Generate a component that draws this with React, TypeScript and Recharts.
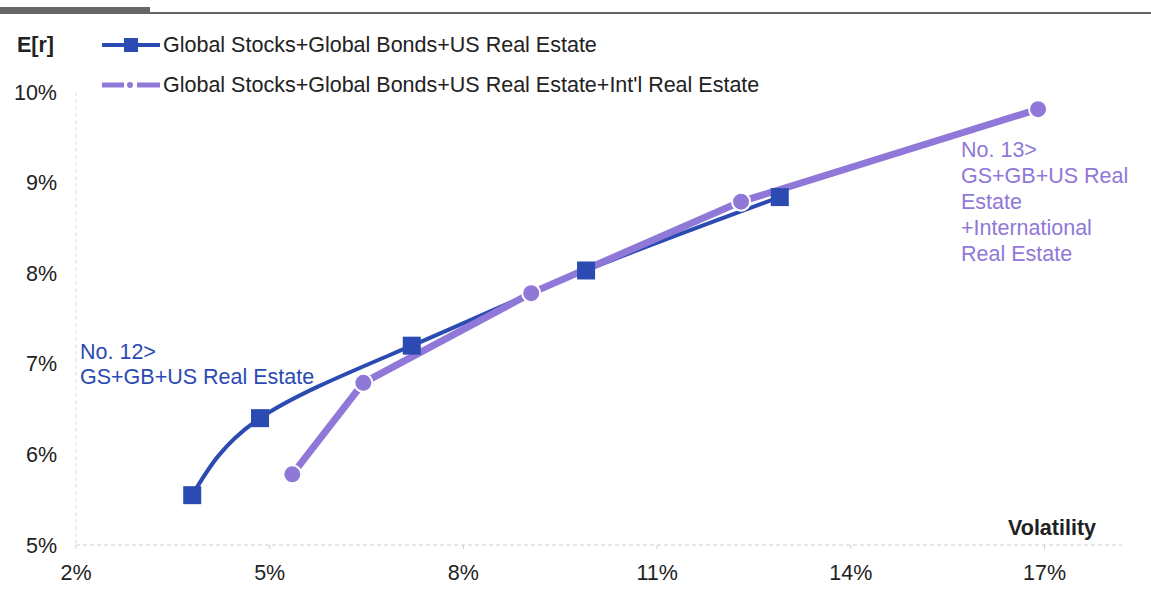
import React from "react";
import { LineChart, Line, XAxis, YAxis } from "recharts";

const xTicks = [2, 5, 8, 11, 14, 17];
const yTicks = [5, 6, 7, 8, 9, 10];

const usVol = [3.8, 4.85, 7.2, 9.9, 12.9];
const usRet = [5.55, 6.4, 7.2, 8.03, 8.84];

const intlVol = [5.35, 6.45, 9.05, 12.3, 16.9];
const intlRet = [5.78, 6.79, 7.78, 8.79, 9.81];

const seriesNames = [
  "Global Stocks+Global Bonds+US Real Estate",
  "Global Stocks+Global Bonds+US Real Estate+Int'l Real Estate",
];

const noteUs = ["No. 12>", "GS+GB+US Real Estate"];
const noteIntl = ["No. 13>", "GS+GB+US Real", "Estate", "+International", "Real Estate"];

const BLUE = "#2b4bb3";
const PURPLE = "#9078d8";
const FONT = "Arial, 'Liberation Sans', sans-serif";
const FS = 21.5;

const usData = usVol.map((v, i) => ({ vol: v, ret: usRet[i] }));
const intlData = intlVol.map((v, i) => ({ vol: v, ret: intlRet[i] }));

const SquareDot = (props: any) => {
  const { cx, cy } = props;
  if (cx == null || cy == null) return null;
  return <rect x={cx - 9} y={cy - 9} width={18} height={18} fill={BLUE} />;
};

const CircleDot = (props: any) => {
  const { cx, cy } = props;
  if (cx == null || cy == null) return null;
  return <circle cx={cx} cy={cy} r={9} fill={PURPLE} stroke="#fff" strokeWidth={2} />;
};

const abs = (left: number, top: number, extra: React.CSSProperties = {}): React.CSSProperties => ({
  position: "absolute",
  left,
  top,
  fontFamily: FONT,
  fontSize: FS,
  color: "#222",
  whiteSpace: "nowrap",
  lineHeight: "24px",
  ...extra,
});

export default function App() {
  return (
    <div style={{ position: "absolute", left: 0, top: 0, width: 1151, height: 595, background: "#fff", overflow: "hidden" }}>
      {/* header rule */}
      <div style={{ position: "absolute", left: 0, top: 12, width: 1151, height: 1.5, background: "#666" }} />
      <div style={{ position: "absolute", left: 0, top: 7, width: 150, height: 6, background: "#666" }} />

      <LineChart
        width={1151}
        height={595}
        margin={{ top: 92, right: 29, bottom: 10, left: 0 }}
        style={{ position: "absolute", left: 0, top: 0 }}
      >
        <XAxis
          type="number"
          dataKey="vol"
          domain={[2, 18.2]}
          ticks={xTicks}
          allowDataOverflow
          tickFormatter={(v) => `${v}%`}
          height={40}
          tickSize={4}
          tickMargin={16}
          axisLine={{ stroke: "#cfcfcf", strokeDasharray: "4 3" }}
          tickLine={{ stroke: "#cfcfcf" }}
          tick={{ fill: "#222", fontSize: FS, fontFamily: FONT }}
        />
        <YAxis
          type="number"
          dataKey="ret"
          domain={[5, 10]}
          ticks={yTicks}
          allowDataOverflow
          tickFormatter={(v) => `${v}%`}
          width={76}
          tickSize={0}
          tickMargin={19}
          axisLine={{ stroke: "#dddddd", strokeDasharray: "4 3" }}
          tickLine={false}
          tick={{ fill: "#222", fontSize: FS, fontFamily: FONT }}
        />
        <Line
          data={usData}
          dataKey="ret"
          type="natural"
          stroke={BLUE}
          strokeWidth={4}
          dot={<SquareDot />}
          activeDot={false}
          isAnimationActive={false}
        />
        <Line
          data={intlData}
          dataKey="ret"
          type="linear"
          stroke={PURPLE}
          strokeWidth={7}
          dot={<CircleDot />}
          activeDot={false}
          isAnimationActive={false}
        />
      </LineChart>

      {/* axis titles */}
      <div style={abs(17, 33, { fontWeight: "bold" })}>E[r]</div>
      <div style={abs(1008, 516, { fontWeight: "bold" })}>Volatility</div>

      {/* legend */}
      <svg style={{ position: "absolute", left: 100, top: 35 }} width={62} height={60}>
        <line x1={2} y1={10} x2={60} y2={10} stroke={BLUE} strokeWidth={4} />
        <rect x={24} y={3} width={14} height={14} fill={BLUE} />
        <line x1={2} y1={50} x2={24} y2={50} stroke={PURPLE} strokeWidth={5} />
        <circle cx={30} cy={50} r={3} fill={PURPLE} />
        <line x1={37} y1={50} x2={60} y2={50} stroke={PURPLE} strokeWidth={5} />
      </svg>
      <div style={abs(163, 33)}>{seriesNames[0]}</div>
      <div style={abs(163, 73)}>{seriesNames[1]}</div>

      {/* annotations */}
      {noteUs.map((t, i) => (
        <div key={t} style={abs(80, 340 + i * 25, { color: BLUE })}>
          {t}
        </div>
      ))}
      {noteIntl.map((t, i) => (
        <div key={t} style={abs(961, 138 + i * 26, { color: PURPLE })}>
          {t}
        </div>
      ))}
    </div>
  );
}
